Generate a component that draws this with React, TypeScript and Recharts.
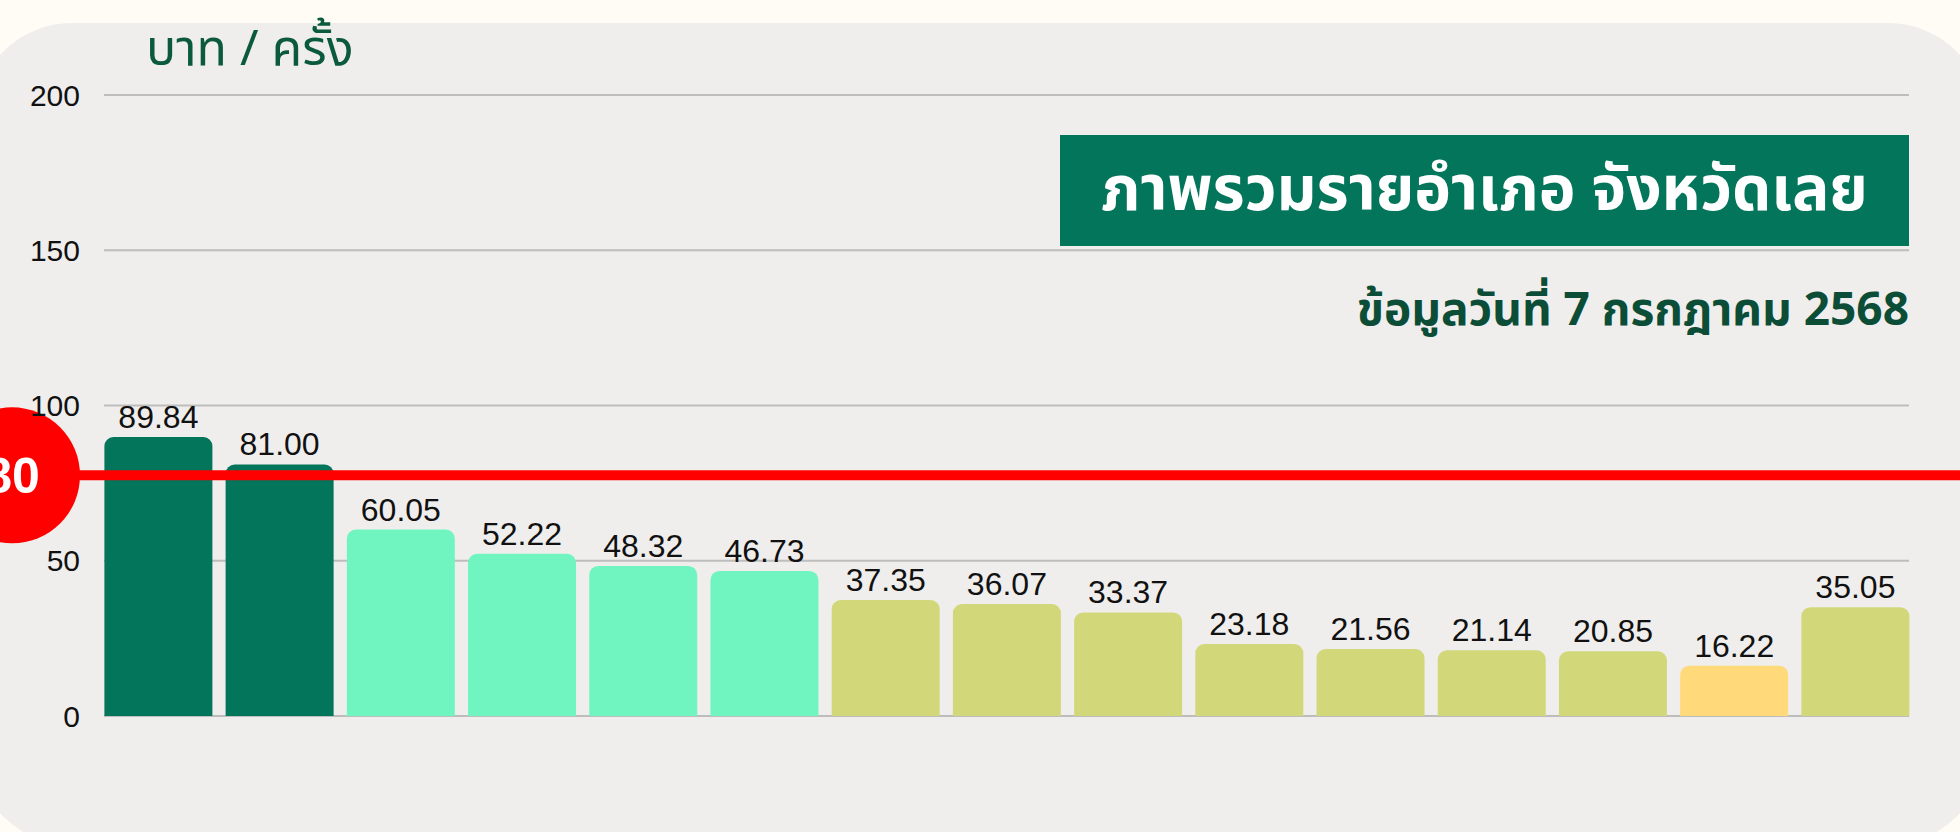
import { BarChart, Bar, XAxis, YAxis, CartesianGrid, Cell, LabelList, ReferenceLine } from 'recharts';

// ค่าเฉลี่ยต่อครั้ง แยกตามอำเภอ (ชื่ออำเภอไม่แสดงในภาพ)
const districts = ['1', '2', '3', '4', '5', '6', '7', '8', '9', '10', '11', '12', '13', '14', 'รวม'];
const values = [89.84, 81.0, 60.05, 52.22, 48.32, 46.73, 37.35, 36.07, 33.37, 23.18, 21.56, 21.14, 20.85, 16.22, 35.05];
const yTicks = [0, 50, 100, 150, 200];
const target = 77.5;
const targetLabel = '80';

const barColors = [
  '#03755A', '#03755A',
  '#70F5C0', '#70F5C0', '#70F5C0', '#70F5C0',
  '#D2D87A', '#D2D87A', '#D2D87A', '#D2D87A', '#D2D87A', '#D2D87A', '#D2D87A',
  '#FFD97A',
  '#D2D87A',
];

const data = districts.map((name, i) => ({ name, value: values[i] }));

const W = 1960;
const H = 832;
const digitFont = '"Liberation Sans", Arial, sans-serif';
const thaiFont = '"Noto Sans Thai", "Noto Sans", sans-serif';

// เส้นเป้าหมายยาวเต็มความกว้าง พร้อมวงกลมที่ขอบซ้าย
function TargetLine(props: any) {
  const y = props.y1 ?? props.y;
  return (
    <g>
      <line x1={0} x2={W} y1={y} y2={y} stroke="#FF0000" strokeWidth={10} />
      <circle cx={12} cy={y} r={68} fill="#FF0000" />
      <text
        x={12}
        y={y}
        dy="0.36em"
        textAnchor="middle"
        fill="#fff"
        fontSize={50}
        fontWeight={700}
        fontFamily={digitFont}
      >
        {targetLabel}
      </text>
    </g>
  );
}

export default function App() {
  return (
    <div
      style={{
        position: 'fixed',
        left: 0,
        top: 0,
        width: W,
        height: H,
        overflow: 'hidden',
        background: '#FFFCF5',
      }}
    >
      <div
        style={{
          position: 'absolute',
          left: -25,
          top: 23,
          width: 2010,
          height: 822,
          borderRadius: 97,
          background: '#EFEEED',
        }}
      />
      <div
        style={{
          position: 'absolute',
          left: 146,
          top: 25,
          fontFamily: thaiFont,
          fontSize: 50,
          color: '#0B5A3E',
          lineHeight: 1,
          whiteSpace: 'nowrap',
        }}
      >
        บาท / ครั้ง
      </div>
      <div style={{ position: 'absolute', left: 0, top: 0 }}>
        <BarChart
          width={W}
          height={H}
          data={data}
          margin={{ top: 95, right: 51, bottom: 116, left: 24 }}
        >
          <CartesianGrid vertical={false} stroke="#BDBDBD" strokeWidth={2} />
          <XAxis dataKey="name" hide padding={{ left: -6.6, right: -6.6 }} />
          <YAxis
            width={80}
            domain={[0, 200]}
            ticks={yTicks}
            axisLine={false}
            tickLine={false}
            tickSize={0}
            tickMargin={24}
            tick={{ fill: '#111', fontSize: 30, fontFamily: digitFont }}
          />
          <Bar dataKey="value" barSize={108} radius={[9, 9, 0, 0]} isAnimationActive={false}>
            {data.map((d, i) => (
              <Cell key={d.name} fill={barColors[i]} />
            ))}
            <LabelList
              dataKey="value"
              position="top"
              offset={9}
              formatter={(v: any) => Number(v).toFixed(2)}
              style={{ fill: '#111', fontSize: 32, fontFamily: digitFont }}
            />
          </Bar>
          <ReferenceLine y={target} shape={TargetLine} ifOverflow="visible" />
        </BarChart>
      </div>
      <div
        style={{
          position: 'absolute',
          left: 1060,
          top: 135,
          width: 849,
          height: 111,
          background: '#03755A',
          color: '#fff',
          fontFamily: thaiFont,
          fontWeight: 700,
          fontSize: 62,
          display: 'flex',
          alignItems: 'center',
          justifyContent: 'center',
          whiteSpace: 'nowrap',
        }}
      >
        ภาพรวมรายอำเภอ จังหวัดเลย
      </div>
      <div
        style={{
          position: 'absolute',
          right: 51,
          top: 288,
          fontFamily: thaiFont,
          fontWeight: 700,
          fontSize: 46,
          color: '#0B4D36',
          lineHeight: 1,
          whiteSpace: 'nowrap',
        }}
      >
        ข้อมูลวันที่ 7 กรกฎาคม 2568
      </div>
    </div>
  );
}
